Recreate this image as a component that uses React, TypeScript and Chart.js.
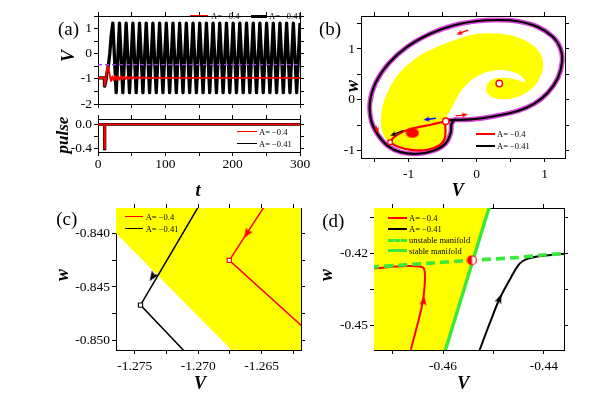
import React, { useEffect, useRef } from 'react';
import { Chart, registerables } from 'chart.js';

Chart.register(...registerables);

const SERIF = "'Liberation Serif', 'Times New Roman', Times, serif";

// ================= Panel (a): time series =================
const aTimeTicks = [0, 50, 100, 150, 200, 250, 300];
const aTimeLabels = [0, 100, 200, 300];
const aVTicks = [-2, -1.5, -1, -0.5, 0, 0.5, 1, 1.5];
const aVLabels = [-2, -1, 0, 1];
const aThresholdV = -0.43;
const aRedT = [0, 9.2, 9.6, 10.2, 11.2, 12.8, 14.3, 16.2, 18, 19.4, 21.3, 23.3, 25.4, 27.5, 29.7, 31.9, 34.1, 36.4, 38.7, 41, 43.3, 45.6, 48, 50.4, 52.8, 55.2, 57.6, 60, 62.5, 65, 67.5, 70, 72.5, 75, 77.5, 80, 83, 86, 90, 95, 300];
const aRedV = [-0.96, -0.96, -1.15, -1.27, -1.12, -0.7, -0.47, -0.62, -0.95, -1.09, -0.9, -1.06, -0.88, -1.04, -0.89, -1.03, -0.9, -1.02, -0.91, -1.01, -0.915, -1.0, -0.92, -0.995, -0.925, -0.99, -0.93, -0.985, -0.935, -0.98, -0.94, -0.978, -0.945, -0.975, -0.948, -0.972, -0.952, -0.968, -0.956, -0.96, -0.96];
const aBlackStartT = [0, 9.2, 9.6, 10.2, 11.5, 13.5, 15.5, 17.5, 19.5];
const aBlackStartV = [-0.96, -0.96, -1.15, -1.29, -1.1, -0.75, -0.45, 0.0, 0.7];
const aBlackPeakT = [22.0, 31.9, 41.8, 51.8, 61.7, 71.6, 81.5, 91.5, 101.4, 111.3, 121.3, 131.2, 141.1, 151.1, 161.0, 170.9, 180.8, 190.8, 200.7, 210.6, 220.6, 230.5, 240.4, 250.4, 260.3, 270.2, 280.1, 290.1, 300];
const aBlackTroughT = [27.0, 36.9, 46.8, 56.7, 66.7, 76.6, 86.5, 96.4, 106.4, 116.3, 126.2, 136.1, 146.1, 156.0, 165.9, 175.9, 185.8, 195.7, 205.6, 215.6, 225.5, 235.4, 245.4, 255.3, 265.2, 275.2, 285.1, 295.0];
const aBlackPeakV = 1.22;
const aBlackTroughV = -1.55;
const pulseT = [0, 9.4, 9.4, 10.4, 10.4, 300];
const pulseRedV = [0, 0, -0.4, -0.4, 0, 0];
const pulseBlackV = [0, 0, -0.41, -0.41, 0, 0];
const pulseTicks = [-0.4, -0.2, 0];
const pulseLabels = [-0.4, 0];
const seriesNames = ['A= \u22120.4', 'A= \u22120.41'];
const manifoldNames = ['unstable manifold', 'stable manifold'];

// ================= Panel (b): phase plane =================
const bVTicks = [-1.5, -1, -0.5, 0, 0.5, 1];
const bWTicks = [-1, -0.5, 0, 0.5, 1, 1.5];
const bLabels = [-1, 0, 1];
const bYellowV = [-0.454, -0.44, -0.369, -0.257, -0.084, 0.112, 0.333, 0.531, 0.664, 0.712, 0.58, 0.432, 0.285, 0.186, 0.142, 0.162, 0.26, 0.457, 0.653, 0.83, 0.94, 0.98, 0.94, 0.82, 0.62, 0.4, 0.15, -0.1, -0.35, -0.6, -0.822, -1.068, -1.239, -1.352, -1.401, -1.4, -1.363, -1.289, -1.141, -0.92, -0.674, -0.516, -0.45, -0.44, -0.458, -0.454];
const bYellowW = [-0.422, -0.33, -0.175, 0.117, 0.376, 0.526, 0.585, 0.552, 0.46, 0.343, 0.396, 0.429, 0.423, 0.357, 0.246, 0.117, 0.031, 0.012, 0.084, 0.24, 0.46, 0.68, 0.9, 1.08, 1.22, 1.29, 1.31, 1.27, 1.16, 1.03, 0.883, 0.624, 0.331, 0.006, -0.287, -0.546, -0.709, -0.838, -0.955, -1.014, -1.001, -0.924, -0.78, -0.6, -0.46, -0.422];
const bCycleV = [-0.33, -0.084, 0.26, 0.605, 0.85, 1.047, 1.195, 1.258, 1.233, 1.121, 0.9, 0.605, 0.31, 0.015, -0.33, -0.674, -1.018, -1.289, -1.485, -1.569, -1.549, -1.46, -1.313, -1.117, -0.87, -0.625, -0.453, -0.379, -0.369, -0.33];
const bCycleW = [-0.398, -0.39, -0.326, -0.222, -0.078, 0.136, 0.429, 0.753, 1.013, 1.24, 1.435, 1.546, 1.571, 1.552, 1.468, 1.306, 1.045, 0.721, 0.331, -0.058, -0.417, -0.676, -0.904, -1.034, -1.066, -1.001, -0.858, -0.643, -0.481, -0.398];
const bLinkV = [-0.445, -0.38, -0.3];
const bLinkW = [-0.418, -0.405, -0.397];
const bRedV = [-1.272, -1.165, -0.969, -0.723, -0.552, -0.472, -0.458, -0.466, -0.464, -0.52, -0.674, -0.87, -1.068, -1.215, -1.272];
const bRedW = [-0.84, -0.924, -0.988, -0.988, -0.904, -0.78, -0.6, -0.46, -0.425, -0.445, -0.495, -0.546, -0.624, -0.741, -0.84];
const bArrows = [
  { tail: [-0.124, 1.37], head: [-0.257, 1.306], color: '#ff0000' },
  { tail: [-0.305, -0.32], head: [-0.173, -0.3], color: '#ff0000' },
  { tail: [-0.6, -0.365], head: [-0.737, -0.39], color: '#0000ff' },
  { tail: [-1.083, -0.612], head: [-1.23, -0.69], color: '#000000' },
  { tail: [-1.485, -0.514], head: [-1.46, -0.612], color: '#ff0000' },
];
const bFocus = { x: 0.333, y: 0.32 };
const bSaddle = { x: -0.453, y: -0.425 };
const bKick = { x: -1.272, y: -0.84 };
const bRest = { x: -0.944, y: -0.657 };

// ================= Panel (c): zoom near the kick =================
const cVTicks = [-1.275, -1.2725, -1.27, -1.2675, -1.265, -1.2625];
const cVLabels = [-1.275, -1.27, -1.265];
const cWTicks = [-0.85, -0.8475, -0.845, -0.8425, -0.84];
const cWLabels = [-0.85, -0.845, -0.84];
const cYellowV = [-1.28, -1.28, -1.26, -1.26, -1.26557];
const cYellowW = [-0.8358, -0.83, -0.83, -0.853, -0.853];
const cRedV = [-1.2646, -1.26755, -1.26134];
const cRedW = [-0.83717, -0.84253, -0.84915];
const cBlackV = [-1.26955, -1.27455, -1.27084];
const cBlackW = [-0.83667, -0.84669, -0.85128];
const cArrows = [
  { tail: [-1.26487, -0.83766], head: [-1.26618, -0.84006], color: '#ff0000' },
  { tail: [-1.27, -0.83766], head: [-1.27361, -0.84407], color: '#000000' },
];

// ================= Panel (d): zoom near the saddle =================
const dVTicks = [-0.47, -0.46, -0.45, -0.44];
const dVLabels = [-0.46, -0.44];
const dWTicks = [-0.45, -0.435, -0.42, -0.405];
const dWLabels = [-0.45, -0.42];
const dYellowV = [-0.48, -0.46097, -0.44928, -0.48];
const dYellowW = [-0.47, -0.47, -0.39, -0.39];
const dStableV = [-0.46097, -0.44928];
const dStableW = [-0.47, -0.39];
const dUnstableV = [-0.48, -0.4737, -0.46858, -0.46198, -0.45426, -0.44547, -0.44085, -0.436, -0.43];
const dUnstableW = [-0.4259, -0.4255, -0.4248, -0.42386, -0.42274, -0.42166, -0.42066, -0.42, -0.4196];
const dRedV = [-0.4666, -0.4664, -0.46503, -0.46408, -0.46362, -0.46362, -0.46396, -0.46495, -0.46858, -0.4737, -0.48];
const dRedW = [-0.462, -0.4601, -0.44905, -0.44075, -0.43245, -0.42759, -0.42581, -0.42523, -0.42523, -0.42606, -0.4262];
const dBlackV = [-0.453, -0.45273, -0.45075, -0.44877, -0.44646, -0.44481, -0.44317, -0.44085, -0.436, -0.43];
const dBlackW = [-0.462, -0.4601, -0.44905, -0.43867, -0.42967, -0.42415, -0.42207, -0.42108, -0.42, -0.4196];
const dArrows = [
  { tail: [-0.46408, -0.443], head: [-0.46385, -0.4395], color: '#ff0000' },
  { tail: [-0.45075, -0.44905], head: [-0.44877, -0.43867], color: '#000000' },
];
const dSaddle = { x: -0.45426, y: -0.42274 };

// ================= layout =================
const M = { l: 48, r: 16, t: 12, b: 30 };
type Area = { l: number; t: number; r: number; b: number };
const AREA: Record<string, Area> = {
  aTop: { l: 98, t: 16, r: 300, b: 104 },
  aPulse: { l: 98, t: 119, r: 300, b: 152 },
  b: { l: 361, t: 16, r: 565, b: 158 },
  c: { l: 116, t: 208, r: 301, b: 350 },
  d: { l: 374, t: 208, r: 564, b: 350 },
};
const RED = '#ff0000';
const MAGENTA = '#d844d8';
const YELLOW = '#ffff00';
const GREEN = '#3ae83a';
const PURPLE = '#9a3cf0';
const TICK_FONT = 13.5;

type Pt = { x: number; y: number };
const zip = (xs: number[], ys: number[]): Pt[] => xs.map((x, i) => ({ x, y: ys[i] }));

function axis(pos: string, min: number, max: number, ticks: number[], labeled: number[], fmt: (v: number) => string, size: number, pad: number) {
  const horizontal = pos === 'top' || pos === 'bottom';
  return {
    type: 'linear',
    position: pos,
    min,
    max,
    afterBuildTicks: (s: any) => {
      s.ticks = ticks.map((v) => ({ value: v }));
    },
    afterFit: (s: any) => {
      if (horizontal) s.height = size;
      else s.width = size;
    },
    ticks: {
      autoSkip: false,
      maxRotation: 0,
      minRotation: 0,
      padding: pad,
      color: '#000',
      font: { family: SERIF, size: TICK_FONT },
      callback: (v: number) => (labeled.some((l) => Math.abs(l - v) < 1e-9) ? fmt(v) : ''),
    },
    grid: { drawOnChartArea: false, drawTicks: true, tickLength: 4, tickWidth: 1, color: '#000', lineWidth: 1 },
    border: { display: true, color: '#000', width: 1 },
  };
}

function frame(xr: number[], yr: number[], xt: number[], yt: number[], xl: number[], yl: number[], xf: (v: number) => string, yf: (v: number) => string, xPad: number) {
  return {
    x: axis('bottom', xr[0], xr[1], xt, xl, xf, M.b, xPad),
    x2: axis('top', xr[0], xr[1], xt, [], xf, M.t, 0),
    y: axis('left', yr[0], yr[1], yt, yl, yf, M.l, 2),
    y2: axis('right', yr[0], yr[1], yt, [], yf, M.r, 0),
  };
}

const lineSet = (data: Pt[], color: string, width: number, extra: any = {}) => ({
  data,
  showLine: true,
  borderColor: color,
  borderWidth: width,
  pointRadius: 0,
  tension: 0,
  fill: false,
  borderJoinStyle: 'round',
  ...extra,
});

const areaSet = (data: Pt[], color: string, tension = 0) => ({
  data,
  showLine: true,
  borderColor: 'rgba(0,0,0,0)',
  borderWidth: 0,
  backgroundColor: color,
  pointRadius: 0,
  tension,
  fill: 'shape',
});

const headRotation = (ctx: any) => {
  const i = ctx.dataIndex;
  if (!i) return 0;
  const data = ctx.dataset.data;
  const xs = ctx.chart.scales.x;
  const ys = ctx.chart.scales.y;
  const a = data[i - 1];
  const b = data[i];
  const dx = xs.getPixelForValue(b.x) - xs.getPixelForValue(a.x);
  const dy = ys.getPixelForValue(b.y) - ys.getPixelForValue(a.y);
  return (Math.atan2(dx, -dy) * 180) / Math.PI;
};

function arrowImage(color: string, w: number, h: number) {
  const c = document.createElement('canvas');
  c.width = w;
  c.height = h;
  const g = c.getContext('2d')!;
  g.fillStyle = color;
  g.beginPath();
  g.moveTo(w / 2, 0);
  g.lineTo(w, h);
  g.lineTo(w / 2, h * 0.82);
  g.lineTo(0, h);
  g.closePath();
  g.fill();
  return c;
}

const arrowSet = (a: { tail: number[]; head: number[]; color: string }, shaft: boolean, w: number, h: number) => ({
  data: [{ x: a.tail[0], y: a.tail[1] }, { x: a.head[0], y: a.head[1] }],
  showLine: shaft,
  borderColor: a.color,
  borderWidth: 1.4,
  tension: 0,
  fill: false,
  pointRadius: [0, 4],
  pointStyle: arrowImage(a.color, w, h),
  pointRotation: headRotation,
});

const markerSet = (p: Pt, style: any, r: number, fillC: string, stroke: string, bw = 1.3) => ({
  data: [p],
  showLine: false,
  pointStyle: style,
  pointRadius: r,
  pointBackgroundColor: fillC,
  pointBorderColor: stroke,
  pointBorderWidth: bw,
});

function config(datasets: any[], scales: any) {
  const n = datasets.length;
  return {
    type: 'scatter',
    data: { datasets: datasets.map((d, i) => ({ order: n - i, ...d })) },
    options: {
      responsive: false,
      maintainAspectRatio: false,
      animation: false,
      events: [],
      layout: { padding: 0 },
      plugins: { legend: { display: false }, tooltip: { enabled: false }, title: { display: false } },
      scales,
    },
  };
}

function ellipseImage(w: number, h: number, color: string) {
  const c = document.createElement('canvas');
  c.width = w;
  c.height = h;
  const g = c.getContext('2d')!;
  g.fillStyle = color;
  g.beginPath();
  g.ellipse(w / 2, h / 2, w / 2 - 0.5, h / 2 - 0.5, 0, 0, Math.PI * 2);
  g.fill();
  return c;
}

function halfCircleImage(d: number, color: string) {
  const c = document.createElement('canvas');
  c.width = d;
  c.height = d;
  const g = c.getContext('2d')!;
  const r = d / 2 - 1;
  g.fillStyle = '#fff';
  g.beginPath();
  g.arc(d / 2, d / 2, r, 0, Math.PI * 2);
  g.fill();
  g.fillStyle = color;
  g.beginPath();
  g.arc(d / 2, d / 2, r, Math.PI / 2, (Math.PI * 3) / 2);
  g.closePath();
  g.fill();
  g.strokeStyle = color;
  g.lineWidth = 1.2;
  g.beginPath();
  g.arc(d / 2, d / 2, r, 0, Math.PI * 2);
  g.stroke();
  return c;
}

const fmtInt = (v: number) => String(Math.round(v));

function buildATop() {
  const black: Pt[] = zip(aBlackStartT, aBlackStartV);
  aBlackPeakT.forEach((t, k) => {
    black.push({ x: t, y: aBlackPeakV });
    if (k < aBlackTroughT.length) black.push({ x: aBlackTroughT[k], y: aBlackTroughV });
  });
  return config(
    [
      lineSet(black, '#000', 3.3),
      lineSet(zip(aRedT, aRedV), RED, 1.8),
      lineSet([{ x: 0, y: aThresholdV }, { x: 300, y: aThresholdV }], PURPLE, 1.2, { borderDash: [4, 3] }),
    ],
    frame([0, 300], [-2, 1.5], aTimeTicks, aVTicks, [], aVLabels, fmtInt, fmtInt, 0)
  );
}

function buildAPulse() {
  return config(
    [lineSet(zip(pulseT, pulseBlackV), '#000', 2.6, { borderJoinStyle: 'miter' }), lineSet(zip(pulseT, pulseRedV), RED, 1.6, { borderJoinStyle: 'miter' })],
    frame([0, 300], [-0.46, 0.09], aTimeTicks, pulseTicks, aTimeLabels, pulseLabels, fmtInt, (v) => v.toFixed(1), 0)
  );
}

function buildB() {
  const cycle = zip(bCycleV, bCycleW);
  const link = zip(bLinkV, bLinkW);
  return config(
    [
      areaSet(zip(bYellowV, bYellowW), YELLOW, 0.35),
      lineSet(cycle, MAGENTA, 5, { tension: 0.35 }),
      lineSet(link, MAGENTA, 5, { tension: 0.3 }),
      lineSet(cycle, '#000', 2.2, { tension: 0.35 }),
      lineSet(link, '#000', 2.2, { tension: 0.3 }),
      lineSet(zip(bRedV, bRedW), RED, 2.2, { tension: 0.35 }),
      ...bArrows.map((a) => arrowSet(a, true, 5, 6)),
      markerSet(bRest, ellipseImage(14, 11, RED), 6, RED, RED),
      markerSet(bFocus, 'circle', 3.2, '#fff', RED, 1.4),
      markerSet(bSaddle, 'circle', 3.2, '#fff', RED, 1.4),
      markerSet(bKick, 'rect', 3, '#fff', RED, 1.2),
    ],
    frame([-1.7, 1.3], [-1.15, 1.65], bVTicks, bWTicks, bLabels, bLabels, fmtInt, fmtInt, 4)
  );
}

function buildC() {
  return config(
    [
      areaSet(zip(cYellowV, cYellowW), YELLOW),
      lineSet(zip(cRedV, cRedW), RED, 1.5, { borderJoinStyle: 'miter' }),
      lineSet(zip(cBlackV, cBlackW), '#000', 1.5, { borderJoinStyle: 'miter' }),
      markerSet({ x: cRedV[1], y: cRedW[1] }, 'rect', 3, '#fff', RED, 1.1),
      markerSet({ x: cBlackV[1], y: cBlackW[1] }, 'rect', 3, '#fff', '#000', 1.1),
      ...cArrows.map((a) => arrowSet(a, false, 8, 10)),
    ],
    frame([-1.27648, -1.2619], [-0.85086, -0.83766], cVTicks, cWTicks, cVLabels, cWLabels, (v) => v.toFixed(3), (v) => v.toFixed(3), 4)
  );
}

function buildD() {
  return config(
    [
      areaSet(zip(dYellowV, dYellowW), YELLOW),
      lineSet(zip(dStableV, dStableW), GREEN, 3.4),
      lineSet(zip(dRedV, dRedW), RED, 2, { tension: 0.3 }),
      lineSet(zip(dBlackV, dBlackW), '#000', 2, { tension: 0.3 }),
      lineSet(zip(dUnstableV, dUnstableW), GREEN, 3.6, { borderDash: [9, 5], tension: 0.3 }),
      ...dArrows.map((a) => arrowSet(a, false, 7, 9)),
      markerSet(dSaddle, halfCircleImage(11, RED), 5, RED, RED),
    ],
    frame([-0.4737, -0.436], [-0.4601, -0.401], dVTicks, dWTicks, dVLabels, dWLabels, (v) => v.toFixed(2), (v) => v.toFixed(2), 4)
  );
}

function ChartBox({ area, build }: { area: Area; build: () => any }) {
  const ref = useRef<HTMLCanvasElement>(null);
  const width = area.r - area.l + M.l + M.r;
  const height = area.b - area.t + M.t + M.b;
  useEffect(() => {
    const chart = new Chart(ref.current as HTMLCanvasElement, build() as any);
    return () => chart.destroy();
  }, []);
  return (
    <canvas
      ref={ref}
      width={width}
      height={height}
      style={{ position: 'absolute', left: area.l - M.l, top: area.t - M.t, width, height }}
    />
  );
}

type TextSpec = { text: string; x: number; y: number; size: number; bold?: boolean; italic?: boolean; rot?: number; left?: boolean };
function Label({ s }: { s: TextSpec }) {
  return (
    <div
      style={{
        position: 'absolute',
        left: s.x,
        top: s.y,
        transform: `translate(${s.left ? '0' : '-50%'}, -50%)${s.rot ? ` rotate(${s.rot}deg)` : ''}`,
        fontFamily: SERIF,
        fontSize: s.size,
        fontWeight: s.bold ? 700 : 400,
        fontStyle: s.italic ? 'italic' : 'normal',
        lineHeight: 1,
        whiteSpace: 'nowrap',
        color: '#000',
      }}
    >
      {s.text}
    </div>
  );
}

type SwatchSpec = { x1: number; x2: number; y: number; color: string; w: number; dashed?: boolean };
function Swatch({ s }: { s: SwatchSpec }) {
  return (
    <div
      style={{
        position: 'absolute',
        left: s.x1,
        top: s.y - s.w / 2,
        width: s.x2 - s.x1,
        height: 0,
        borderTop: `${s.w}px ${s.dashed ? 'dashed' : 'solid'} ${s.color}`,
      }}
    />
  );
}

const LG = 8.5;
const TITLE = 18;
const texts: TextSpec[] = [
  { text: '(a)', x: 68.5, y: 27.5, size: 19 },
  { text: '(b)', x: 330, y: 27.5, size: 19 },
  { text: '(c)', x: 66.7, y: 217.8, size: 19 },
  { text: '(d)', x: 333.3, y: 220, size: 19 },
  { text: 'V', x: 68.3, y: 55.5, size: TITLE, bold: true, italic: true, rot: -90 },
  { text: 'pulse', x: 61.5, y: 135, size: 17, bold: true, italic: true, rot: -90 },
  { text: 't', x: 198, y: 189.5, size: TITLE, bold: true, italic: true },
  { text: 'w', x: 351.7, y: 86, size: TITLE, bold: true, italic: true, rot: -90 },
  { text: 'V', x: 457.8, y: 190, size: TITLE, bold: true, italic: true },
  { text: 'w', x: 61.7, y: 274.5, size: TITLE, bold: true, italic: true, rot: -90 },
  { text: 'V', x: 200, y: 383.3, size: TITLE, bold: true, italic: true },
  { text: 'w', x: 325.8, y: 274.5, size: TITLE, bold: true, italic: true, rot: -90 },
  { text: 'V', x: 463.3, y: 383.3, size: TITLE, bold: true, italic: true },
  // legends
  { text: seriesNames[0], x: 211, y: 16, size: 8.5, left: true },
  { text: seriesNames[1], x: 269, y: 16, size: 8.5, left: true },
  { text: seriesNames[0], x: 259, y: 131.7, size: LG, left: true },
  { text: seriesNames[1], x: 259, y: 144, size: LG, left: true },
  { text: seriesNames[0], x: 497, y: 134, size: LG, left: true },
  { text: seriesNames[1], x: 497, y: 145.7, size: LG, left: true },
  { text: seriesNames[0], x: 145.7, y: 217, size: LG, left: true },
  { text: seriesNames[1], x: 145.7, y: 229, size: LG, left: true },
  { text: seriesNames[0], x: 409, y: 217.7, size: LG, left: true },
  { text: seriesNames[1], x: 409, y: 229.3, size: LG, left: true },
  { text: manifoldNames[0], x: 409, y: 240.3, size: LG, left: true },
  { text: manifoldNames[1], x: 409, y: 251, size: LG, left: true },
];
const swatches: SwatchSpec[] = [
  { x1: 190, x2: 208, y: 16, color: RED, w: 1.5 },
  { x1: 251, x2: 267, y: 16, color: '#000', w: 3 },
  { x1: 237, x2: 257, y: 131.7, color: RED, w: 1.5 },
  { x1: 237, x2: 257, y: 144, color: '#000', w: 1.5 },
  { x1: 476, x2: 495, y: 134, color: RED, w: 2 },
  { x1: 476, x2: 495, y: 145.7, color: '#000', w: 2 },
  { x1: 125, x2: 143.3, y: 217, color: RED, w: 1.5 },
  { x1: 125, x2: 143.3, y: 229, color: '#000', w: 1.5 },
  { x1: 388.3, x2: 406.7, y: 217.7, color: RED, w: 2 },
  { x1: 388.3, x2: 406.7, y: 229.3, color: '#000', w: 2 },
  { x1: 388.3, x2: 406.7, y: 240.3, color: GREEN, w: 3.5, dashed: true },
  { x1: 388.3, x2: 406.7, y: 251, color: GREEN, w: 3.5 },
];

export default function App() {
  return (
    <div style={{ position: 'absolute', left: 0, top: 0, width: 606, height: 397, background: '#fff', overflow: 'hidden' }}>
      <ChartBox area={AREA.aTop} build={buildATop} />
      <ChartBox area={AREA.aPulse} build={buildAPulse} />
      <ChartBox area={AREA.b} build={buildB} />
      <ChartBox area={AREA.c} build={buildC} />
      <ChartBox area={AREA.d} build={buildD} />
      {swatches.map((s, i) => (
        <Swatch key={'s' + i} s={s} />
      ))}
      {texts.map((s, i) => (
        <Label key={'t' + i} s={s} />
      ))}
    </div>
  );
}
